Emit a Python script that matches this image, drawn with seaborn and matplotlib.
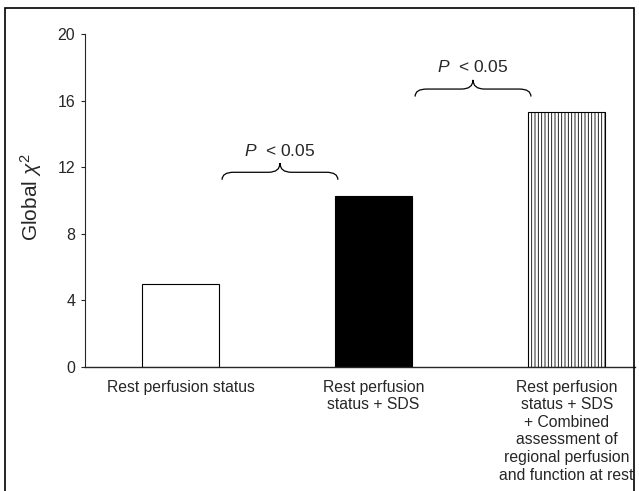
import numpy as np
import pandas as pd
import seaborn as sns
import matplotlib.pyplot as plt
from matplotlib.path import Path
from matplotlib.patches import PathPatch, Rectangle

# данные
categories = [
    "Rest perfusion status",
    "Rest perfusion\nstatus + SDS",
    "Rest perfusion\nstatus + SDS\n+ Combined\nassessment of\nregional perfusion\nand function at rest",
]
global_chi2 = [5.0, 10.3, 15.3]
bar_colors = ["white", "black", "white"]
y_ticks = [0, 4, 8, 12, 16, 20]
p_label = "$P$  < 0.05"

sns.set_style("white")
plt.rcParams['font.family'] = ['Liberation Sans', 'DejaVu Sans']
plt.rcParams['mathtext.fontset'] = 'custom'
plt.rcParams['mathtext.rm'] = 'Liberation Sans'
plt.rcParams['mathtext.it'] = 'Liberation Sans:italic'
plt.rcParams['hatch.linewidth'] = 0.6

df = pd.DataFrame({"group": categories, "chi2": global_chi2})

fig = plt.figure(figsize=(6.39, 4.91), dpi=100)
ax = fig.add_axes([0.133, 0.2525, 0.861, 0.678])

bar_w = 0.4
sns.barplot(data=df, x="group", y="chi2", hue="group", palette=bar_colors,
            width=bar_w, edgecolor="black", linewidth=0.8, legend=False, ax=ax)

# штриховка третьего столбца
ax.patches[2].set_hatch('|||||')

ax.set_xlim(-0.495, 2.355)
ax.set_ylim(0, 20)
ax.set_yticks(y_ticks)
ax.set_xlabel('')
ax.set_ylabel(r'Global $\chi^{2}$', fontsize=15)
ax.yaxis.set_label_coords(-0.075, 0.51)

ax.tick_params(axis='x', length=0, pad=9, labelsize=11.3)
ax.tick_params(axis='y', length=3, width=0.8, direction='out', labelsize=11.5, pad=4, left=True)
for lbl in ax.get_xticklabels():
    lbl.set_linespacing(1.22)

sns.despine(ax=ax)
ax.spines['left'].set_linewidth(0.8)
ax.spines['bottom'].set_linewidth(1.0)


def draw_brace(ax, x0, x1, y, drop=0.45, tip=0.55, r=0.06):
    xm = (x0 + x1) / 2
    verts = [
        (x0, y - drop), (x0, y), (x0 + r, y),
        (xm - r, y), (xm, y), (xm, y + tip),
        (xm, y), (xm + r, y),
        (x1 - r, y), (x1, y), (x1, y - drop),
    ]
    codes = [
        Path.MOVETO, Path.CURVE3, Path.CURVE3,
        Path.LINETO, Path.CURVE3, Path.CURVE3,
        Path.CURVE3, Path.CURVE3,
        Path.LINETO, Path.CURVE3, Path.CURVE3,
    ]
    ax.add_patch(PathPatch(Path(verts, codes), fill=False, ec='black', lw=0.9))


# скобки между соседними столбцами
for i in range(len(global_chi2) - 1):
    x0 = i + bar_w / 2 + 0.015
    x1 = i + 1 - bar_w / 2 + 0.015
    yb = global_chi2[i + 1] + 1.4
    draw_brace(ax, x0, x1, yb)
    ax.text((x0 + x1) / 2, yb + 1.3, p_label, ha='center', va='center', fontsize=12.5)

# рамка вокруг рисунка
fig.add_artist(Rectangle((5 / 639, -0.02), (634 - 5) / 639, 1 - 8 / 491 + 0.02,
                         transform=fig.transFigure, fill=False, ec='black', lw=1.2))

fig.savefig('out.png', dpi=100)
